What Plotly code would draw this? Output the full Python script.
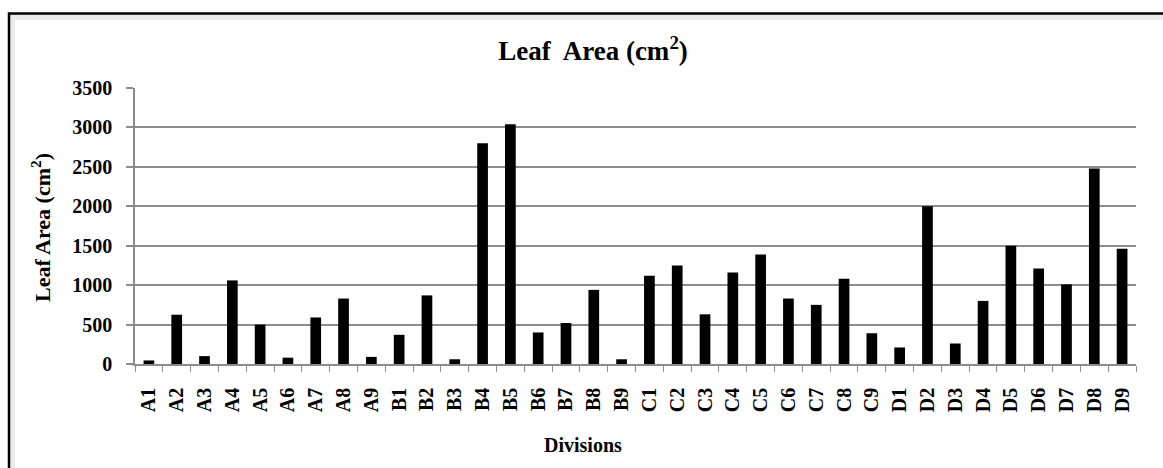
import plotly.graph_objects as go

categories = ["A1","A2","A3","A4","A5","A6","A7","A8","A9",
              "B1","B2","B3","B4","B5","B6","B7","B8","B9",
              "C1","C2","C3","C4","C5","C6","C7","C8","C9",
              "D1","D2","D3","D4","D5","D6","D7","D8","D9"]
leaf_area = [45, 625, 100, 1060, 500, 80, 590, 830, 90,
             370, 870, 60, 2800, 3040, 400, 520, 940, 60,
             1120, 1250, 630, 1160, 1390, 830, 750, 1080, 390,
             210, 2000, 260, 800, 1500, 1210, 1010, 2480, 1460]
y_ticks = [0, 500, 1000, 1500, 2000, 2500, 3000, 3500]

W, H = 1163, 468
L, R, T, B = 135, 27, 88, 104
pw, ph = W - L - R, H - T - B

def px(x):
    return (x - L) / pw

def py(y):
    return (H - B - y) / ph

FONT = "Liberation Serif"
GRID = "#8c8c8c"

fig = go.Figure(go.Bar(x=categories, y=leaf_area, marker=dict(color="black", line=dict(width=0))))

fig.update_layout(
    width=W, height=H,
    margin=dict(l=L, r=R, t=T, b=B, autoexpand=False),
    paper_bgcolor="white", plot_bgcolor="white",
    bargap=0.615,
    showlegend=False,
    font=dict(family=FONT, color="black"),
    title=dict(text="<b>Leaf\u00a0 Area (cm<sup>2</sup>)</b>", x=593 / W, xanchor="center",
               y=1 - 51 / H, yanchor="middle", xref="container", yref="container",
               font=dict(family=FONT, size=27, color="black")),
)

fig.update_xaxes(
    type="category", tickangle=-90, ticks="outside", ticklen=6, tickcolor=GRID, tickwidth=1,
    tickson="boundaries", showline=True, linecolor=GRID, linewidth=1.5,
    showgrid=False, tickfont=dict(family=FONT, size=20, color="black", weight="bold"),
    ticklabelstandoff=14,
)
fig.update_yaxes(
    range=[0, 3500], tickvals=y_ticks, ticks="outside", ticklen=7, tickcolor=GRID, tickwidth=1.5,
    showline=True, linecolor=GRID, linewidth=1.5, showgrid=True, gridcolor=GRID, gridwidth=1.5,
    tickfont=dict(family=FONT, size=20, color="black", weight="bold"), zeroline=False,
    ticklabelstandoff=10,
)

fig.add_annotation(text="<b>Leaf Area (cm<sup>2</sup>)</b>", xref="paper", yref="paper",
                   x=px(41), y=py(228), xanchor="center", yanchor="middle", textangle=-90,
                   showarrow=False, font=dict(family=FONT, size=22, color="black"))
fig.add_annotation(text="<b>Divisions</b>", xref="paper", yref="paper",
                   x=px(583), y=py(445), xanchor="center", yanchor="middle",
                   showarrow=False, font=dict(family=FONT, size=20, color="black"))

# outer frame with soft inner shadow
fig.add_shape(type="rect", xref="paper", yref="paper", x0=px(12), y0=py(480), x1=px(1180), y1=py(17),
              line=dict(color="rgba(0,0,0,0.08)", width=6), layer="below")
fig.add_shape(type="rect", xref="paper", yref="paper", x0=px(9), y0=py(480), x1=px(1180), y1=py(13.5),
              line=dict(color="black", width=2.5), layer="above")

fig.write_html("out.html")
